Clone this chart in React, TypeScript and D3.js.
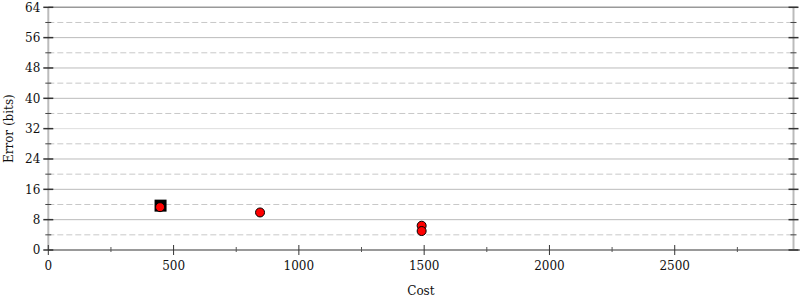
import React from "react";
import * as d3 from "d3";

const pointCosts = [446, 845, 1490, 1490];
const pointErrors = [11.3, 9.9, 6.4, 5.0];
const squareCost = [448];
const squareError = [11.7];
const yMajorTicks = [0, 8, 16, 24, 32, 40, 48, 56, 64];
const yMinorTicks = [4, 12, 20, 28, 36, 44, 52, 60];
const xMajorTicks = [0, 500, 1000, 1500, 2000, 2500];
const xMinorTicks = [250, 750, 1250, 1750, 2250, 2750];

const W = 800, H = 300;
const L = 48.3, R = 793.5, T = 7.3, B = 250;

export default function App() {
  const x = d3.scaleLinear().domain([0, 2974]).range([L, R]);
  const y = d3.scaleLinear().domain([0, 64]).range([B, T]);
  const font = "DejaVu Serif";
  return (
    <svg width={W} height={H} style={{ position: "absolute", left: 0, top: 0 }} fontFamily={font}>
      <rect width={W} height={H} fill="#fff" />
      {yMinorTicks.map((t) => (
        <line key={"gm" + t} x1={L} x2={R} y1={y(t)} y2={y(t)} stroke="#c8c8c8" strokeWidth={1} strokeDasharray="6,3" />
      ))}
      {yMajorTicks.filter((t) => t > 0 && t < 64).map((t) => (
        <line key={"gM" + t} x1={L} x2={R} y1={y(t)} y2={y(t)} stroke={t === 32 ? "#dedede" : "#bbbbbb"} strokeWidth={1} />
      ))}
      <line x1={L} x2={R + 4} y1={y(64)} y2={y(64)} stroke="#999" strokeWidth={1.5} />
      <line x1={L} x2={L} y1={T} y2={B} stroke="#bbb" strokeWidth={2} />
      <line x1={R} x2={R} y1={T} y2={B} stroke="#bbb" strokeWidth={2} />
      <line x1={L} x2={W} y1={B} y2={B} stroke="#999" strokeWidth={2} />
      {yMajorTicks.map((t) => (
        <g key={"yt" + t}>
          <line x1={L - 5} x2={L + 5} y1={y(t)} y2={y(t)} stroke="#333" strokeWidth={1.5} />
          <line x1={R - 5} x2={R + 5} y1={y(t)} y2={y(t)} stroke="#333" strokeWidth={1.5} />
          <text x={L - 8} y={y(t)} dy="0.35em" textAnchor="end" fontSize={12} fill="#111">{t}</text>
        </g>
      ))}
      {yMinorTicks.map((t) => (
        <g key={"ym" + t}>
          <line x1={L - 3} x2={L + 3} y1={y(t)} y2={y(t)} stroke="#444" strokeWidth={1} />
          <line x1={R - 3} x2={R + 3} y1={y(t)} y2={y(t)} stroke="#444" strokeWidth={1} />
        </g>
      ))}
      {xMajorTicks.map((t) => (
        <g key={"xt" + t}>
          <line x1={x(t)} x2={x(t)} y1={B - 5} y2={B + 5} stroke="#333" strokeWidth={1} />
          <text x={x(t)} y={B + 20} textAnchor="middle" fontSize={12} fill="#111">{t}</text>
        </g>
      ))}
      {xMinorTicks.map((t) => (
        <line key={"xm" + t} x1={x(t)} x2={x(t)} y1={B - 3} y2={B + 2} stroke="#555" strokeWidth={1} />
      ))}
      <text x={(L + R) / 2} y={295} textAnchor="middle" fontSize={12} fill="#111">Cost</text>
      <text transform={`translate(13,${(T + B) / 2}) rotate(-90)`} textAnchor="middle" fontSize={12} fill="#111">Error (bits)</text>
      {squareCost.map((c, i) => (
        <rect key={"sq" + i} x={x(c) - 6} y={y(squareError[i]) - 6} width={12} height={12} fill="#000" />
      ))}
      {pointCosts.map((c, i) => (
        <circle key={"p" + i} cx={x(c)} cy={y(pointErrors[i])} r={4.5} fill="#ff0000" stroke="#000" strokeWidth={1} />
      ))}
    </svg>
  );
}
